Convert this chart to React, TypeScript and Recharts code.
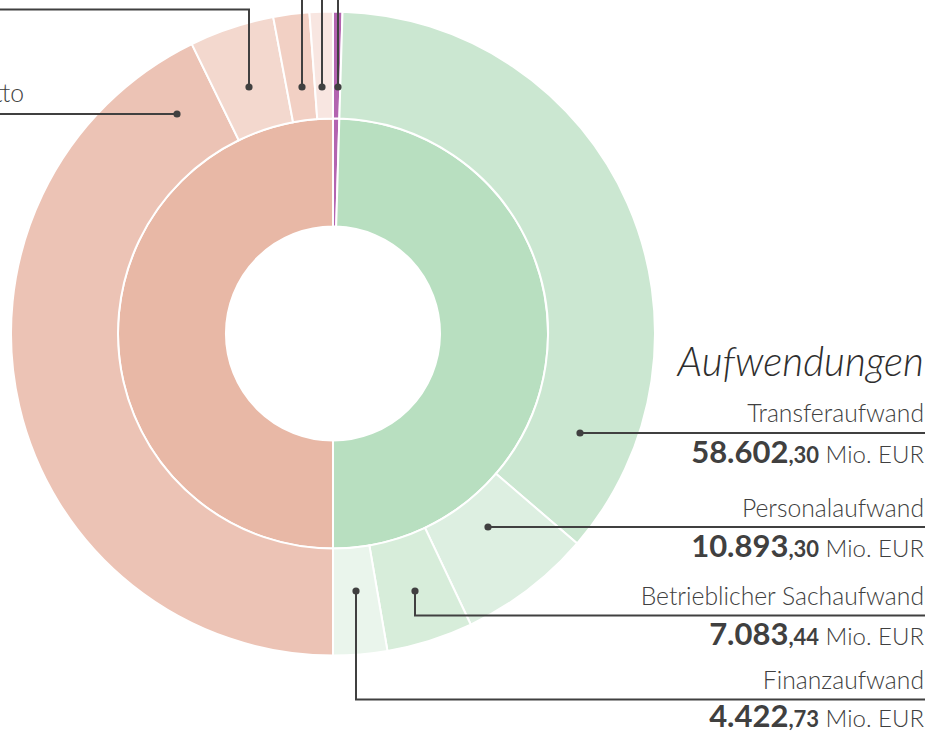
import { Cell, Pie, PieChart } from 'recharts'

document.body.style.margin = '0'
document.body.style.overflow = 'hidden'

const expenseNames = ['Transferaufwand', 'Personalaufwand', 'Betrieblicher Sachaufwand', 'Finanzaufwand']
const expenseValues = [58602.3, 10893.3, 7083.44, 4422.73]
const expenseColors = ['#cbe7d1', '#ddefe1', '#d7edda', '#eaf5ec']

const incomeNames = [
  'Erträge aus Abgaben netto',
  'Erträge aus Transfers',
  'Erträge aus der operativen Verwaltungstätigkeit',
  'Finanzerträge',
]
const incomeValues = [69960, 6951, 2953, 1908]
const incomeColors = ['#ecc3b5', '#f3d8ce', '#f2d0c4', '#f8e6e1']

const netName = 'Nettoergebnis'
const netValue = 770
const netColor = '#b364b0'

const innerColors = { expense: '#b8dfc0', income: '#e8b8a6' }

const sum = (xs: number[]) => xs.reduce((a, b) => a + b, 0)

const innerData = [
  { name: netName, value: netValue, fill: netColor },
  { name: 'Aufwendungen', value: sum(expenseValues), fill: innerColors.expense },
  { name: 'Erträge', value: sum(incomeValues), fill: innerColors.income },
]

const outerData = [
  { name: netName, value: netValue, fill: netColor },
  ...expenseNames.map((name, i) => ({ name, value: expenseValues[i], fill: expenseColors[i] })),
  ...incomeNames.map((name, i) => ({ name, value: incomeValues[i], fill: incomeColors[i] })),
]

function splitValue(v: number) {
  const [int, dec] = v.toFixed(2).split('.')
  return { int: int.replace(/\B(?=(\d{3})+(?!\d))/g, '.'), dec: ',' + dec }
}

const INK = '#404040'
const FONT = 'Lato, "Open Sans", sans-serif'
const RIGHT = 924

// callout layout for the expense side
const expenseCallouts = [
  { dot: [580, 433], path: 'M580,433 H925', label: 422, number: 463 },
  { dot: [488, 527], path: 'M488,527 H925', label: 517, number: 557 },
  { dot: [415, 591], path: 'M415,591 V615.5 H925', label: 605, number: 645 },
  { dot: [356, 591], path: 'M356,591 V699.5 H925', label: 689, number: 727 },
]

// callouts on the income side (labels mostly cut off)
const incomeCallouts = [
  { dot: [177, 114], path: 'M177,114 H0' },
  { dot: [249, 87], path: 'M249,87 V9.5 H0' },
  { dot: [302, 87], path: 'M302,87 V0' },
  { dot: [322, 87], path: 'M322,87 V0' },
]
const netCallout = { dot: [338, 87], path: 'M338,87 V0' }

function Callouts() {
  return (
    <svg
      width={930}
      height={731}
      style={{ position: 'absolute', left: 0, top: 0, pointerEvents: 'none', fontFamily: FONT }}
    >
      {[...incomeCallouts, netCallout].map((c, i) => (
        <g key={'in' + i}>
          <path d={c.path} stroke={INK} strokeWidth={2} fill="none" />
          <circle cx={c.dot[0]} cy={c.dot[1]} r={3.6} fill={INK} />
        </g>
      ))}
      <text x={24} y={102} textAnchor="end" fontSize={24.7} fontWeight={300} fill={INK}>
        {incomeNames[0]}
      </text>

      <text x={RIGHT} y={376} textAnchor="end" fontSize={40.5} fontStyle="italic" fontWeight={300} fill="#2e2e2e">
        Aufwendungen
      </text>
      {expenseCallouts.map((c, i) => {
        const v = splitValue(expenseValues[i])
        return (
          <g key={'ex' + i}>
            <path d={c.path} stroke={INK} strokeWidth={2} fill="none" />
            <circle cx={c.dot[0]} cy={c.dot[1]} r={3.6} fill={INK} />
            <text x={RIGHT} y={c.label} textAnchor="end" fontSize={24.7} fontWeight={300} fill={INK}>
              {expenseNames[i]}
            </text>
            <text x={RIGHT} y={c.number} textAnchor="end" fill={INK}>
              <tspan fontSize={31} fontWeight={700}>{v.int}</tspan>
              <tspan fontSize={22} fontWeight={700}>{v.dec}</tspan>
              <tspan fontSize={24} fontWeight={300}> Mio. EUR</tspan>
            </text>
          </g>
        )
      })}
    </svg>
  )
}

export default function App() {
  return (
    <div style={{ position: 'relative', width: 930, height: 731, background: '#fff' }}>
      <PieChart width={930} height={731} margin={{ top: 0, right: 0, bottom: 0, left: 0 }}>
        <Pie
          data={innerData}
          dataKey="value"
          cx={333}
          cy={333.5}
          innerRadius={107}
          outerRadius={215}
          startAngle={90}
          endAngle={-270}
          stroke="#fff"
          strokeWidth={2}
          isAnimationActive={false}
        >
          {innerData.map((d) => (
            <Cell key={d.name} fill={d.fill} />
          ))}
        </Pie>
        <Pie
          data={outerData}
          dataKey="value"
          cx={333}
          cy={333.5}
          innerRadius={215}
          outerRadius={322}
          startAngle={90}
          endAngle={-270}
          stroke="#fff"
          strokeWidth={2}
          isAnimationActive={false}
        >
          {outerData.map((d) => (
            <Cell key={d.name} fill={d.fill} />
          ))}
        </Pie>
      </PieChart>
      <Callouts />
    </div>
  )
}
